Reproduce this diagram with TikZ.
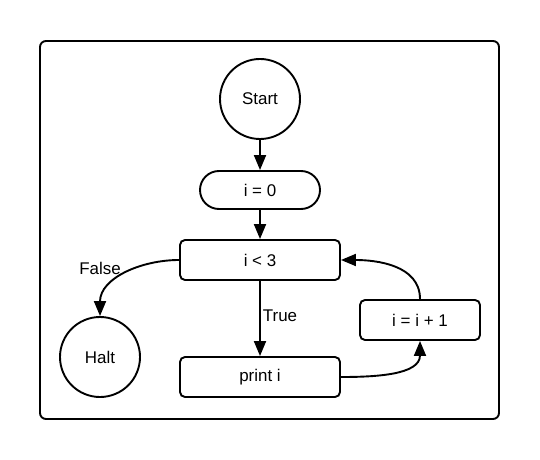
\documentclass[tikz,border=0pt]{standalone}
\usepackage{fontspec}
\setmainfont{Liberation Sans}
\usetikzlibrary{arrows.meta,shapes.misc}
\begin{document}
\begin{tikzpicture}[x=1bp,y=-1bp,
  every node/.style={font=\fontsize{17}{20}\selectfont},
  conn/.style={line width=1.9bp,-{Triangle[length=15bp,width=12bp]}},
  circ/.style={circle,draw,line width=1.9bp,minimum size=80bp,inner sep=0pt},
  procbox/.style={rectangle,rounded corners=5bp,draw,line width=1.9bp,minimum height=40bp,inner sep=0pt},
  term/.style={rounded rectangle,draw,line width=1.9bp,minimum height=38bp,minimum width=120bp,inner sep=0pt},
  lbl/.style={inner sep=0pt}]
\useasboundingbox (0,0) rectangle (540,460);
\draw[line width=1.9bp,rounded corners=6bp] (40,41) rectangle (499,419);
\node[circ] (start) at (260,99) {Start};
\node[term] (init) at (260,190) {i = 0};
\node[procbox,minimum width=160bp] (cond) at (260,260) {i < 3};
\node[procbox,minimum width=160bp] (print) at (260,377) {print i};
\node[procbox,minimum width=120bp] (inc) at (420,320) {i = i + 1};
\node[circ] (halt) at (100,357) {Halt};
\draw[conn] (start) -- (init);
\draw[conn] (init) -- (cond);
\draw[conn] (cond) -- (print);
\draw[conn] (cond.west) to[out=180,in=90] (halt.north);
\draw[conn] (print.east) to[out=0,in=-90] (inc.south);
\draw[conn] (inc.north) to[out=90,in=0] (cond.east);
\node[lbl] (lfalse) at (100,268) {False};
\node[lbl] (ltrue) at (280,316) {True};
\end{tikzpicture}
\end{document}
